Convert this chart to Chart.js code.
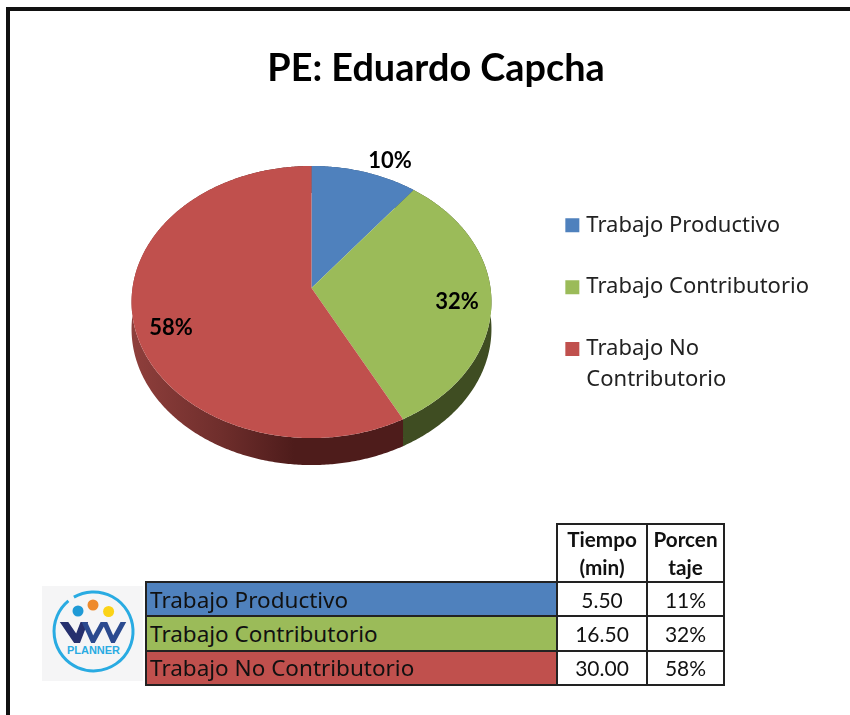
<!DOCTYPE html>
<html><head><meta charset="utf-8">
<script src="https://cdn.jsdelivr.net/npm/chart.js@4"></script>
<style>
html,body{margin:0;padding:0;background:#fff;overflow:hidden}
#page{position:relative;width:850px;height:715px;overflow:hidden;filter:blur(0.4px)}
#frameT{position:absolute;left:6px;top:7px;right:-2px;height:3.5px;background:#111}
#frameL{position:absolute;left:6px;top:7px;bottom:-2px;width:3.5px;background:#111}
canvas{position:absolute;left:0;top:0}
table{position:absolute;left:145px;top:523px;border-collapse:collapse;table-layout:fixed;color:#111}
td{border:2px solid #222;padding:0;text-align:center;font:21px Lato,sans-serif;height:32.3px;overflow:hidden}
td.name{text-align:left;padding-left:3px;font:22.5px "Noto Sans",sans-serif;white-space:nowrap}
td.head{font:bold 20.7px/28px Lato,sans-serif}
td.blank{border:none;border-bottom:2px solid #222;border-right:2px solid #222}
#logo{position:absolute;left:42px;top:586px}
</style></head><body>
<div id="page">
<canvas id="c" width="850" height="715"></canvas>
<div id="frameT"></div><div id="frameL"></div>
<svg id="logo" width="101" height="95" viewBox="0 0 101 95">
<defs><clipPath id="wclip"><rect x="15" y="36" width="72" height="21"/></clipPath></defs>
<rect width="101" height="95" fill="#f5f5f6"/>
<path d="M 31.9 11.1 A 39.5 39.5 0 1 1 26.4 14.9" fill="none" stroke="#29abe2" stroke-width="3"/>
<circle cx="36" cy="25" r="5.5" fill="#1f9ad6"/><circle cx="51" cy="19" r="5.5" fill="#ee8a2c"/><circle cx="66.6" cy="25.5" r="5.5" fill="#fbd317"/>
<g clip-path="url(#wclip)" fill="none">
<path d="M 45 29 L 35 55 L 20 33" stroke="#26306e" stroke-width="7"/>
<path d="M 41 33 L 51 55 L 62 35 L 71 55 L 83 33" stroke="#2b4a8f" stroke-width="5"/>
</g>
<text x="25" y="68" font-family="Liberation Sans" font-weight="bold" font-size="10" fill="#29abe2" textLength="53" lengthAdjust="spacingAndGlyphs">PLANNER</text>
</svg>
<table id="t"></table>
</div>
<script>
const categories = ['Trabajo Productivo', 'Trabajo Contributorio', 'Trabajo No Contributorio'];
const legendLines = [['Trabajo Productivo'], ['Trabajo Contributorio'], ['Trabajo No', 'Contributorio']];
const minutes = [5.5, 16.5, 30];
const minuteLabels = ['5.50', '16.50', '30.00'];
const tablePercent = ['11%', '32%', '58%'];
const sliceLabels = ['10%', '32%', '58%'];
const headers = [['Tiempo', '(min)'], ['Porcen', 'taje']];
const colors = ['#4f81bd', '#9bbb59', '#c0504d'];
const chartTitle = 'PE: Eduardo Capcha';

// table
const t = document.getElementById('t');
const cw = [411, 90, 77];
t.style.width = cw.reduce((a, b) => a + b) + 'px';
let html = '<colgroup>' + cw.map(w => `<col style="width:${w}px">`).join('') + '</colgroup>';
html += '<tr><td class="blank head"></td>' + headers.map(h => `<td class="head">${h.join('<br>')}</td>`).join('') + '</tr>';
categories.forEach((c, i) => {
  html += `<tr><td class="name" style="background:${colors[i]}">${c}</td><td>${minuteLabels[i]}</td><td>${tablePercent[i]}</td></tr>`;
});
t.innerHTML = html;

// perspective projection of the pie disc
const HUB = {x: 311.5, y: 288}, RX = 179, RY = 134.6, PERSP = -0.103, DEPTH = 27;
function project(angle, r, dy) {
  const u = r * Math.cos(angle), v = r * Math.sin(angle); // library angle, 0 = east, y down
  const d = 1 + PERSP * v;
  return [HUB.x + RX * u / d, HUB.y + RY * v / d + (dy || 0)];
}
function arcPoints(a0, a1, dy) {
  const n = Math.max(2, Math.ceil((a1 - a0) / 0.01)), pts = [];
  for (let i = 0; i <= n; i++) pts.push(project(a0 + (a1 - a0) * i / n, 1, dy));
  return pts;
}
function trace(ctx, pts) {
  ctx.beginPath();
  pts.forEach((p, i) => i ? ctx.lineTo(p[0], p[1]) : ctx.moveTo(p[0], p[1]));
  ctx.closePath();
}
const labelSpots = [{x: 390, y: 161}, {x: 457, y: 302}, {x: 171, y: 328}];
const tiltedPie = {
  id: 'tiltedPie',
  beforeDatasetDraw(chart, args) {
    const ctx = chart.ctx, arcs = chart.getDatasetMeta(args.index).data;
    const red = ctx.createLinearGradient(131, 0, 403, 0);
    red.addColorStop(0, '#8f3f3c'); red.addColorStop(0.33, '#6f2e2c'); red.addColorStop(0.6, '#4e1c1b'); red.addColorStop(1, '#4e1c1b');
    const wallFill = ['#2c4a6e', '#3f4d22', red];
    ctx.save();
    // side wall
    arcs.forEach((a, i) => {
      const top = arcPoints(a.startAngle, a.endAngle, 0), low = arcPoints(a.startAngle, a.endAngle, DEPTH).reverse();
      ctx.fillStyle = wallFill[i];
      trace(ctx, top.concat(low));
      ctx.fill();
    });
    // top face
    arcs.forEach((a, i) => {
      ctx.fillStyle = a.options.backgroundColor;
      trace(ctx, [[HUB.x, HUB.y]].concat(arcPoints(a.startAngle, a.endAngle, 0)));
      ctx.fill();
    });
    ctx.font = 'bold 22px Lato, sans-serif';
    ctx.fillStyle = '#000';
    ctx.textAlign = 'center';
    ctx.textBaseline = 'middle';
    sliceLabels.forEach((s, i) => ctx.fillText(s, labelSpots[i].x, labelSpots[i].y));
    ctx.restore();
    return false;
  }
};

new Chart(document.getElementById('c'), {
  type: 'pie',
  plugins: [tiltedPie],
  data: {
    labels: legendLines,
    datasets: [{data: minutes, backgroundColor: colors, borderWidth: 0}]
  },
  options: {
    responsive: false,
    animation: false,
    layout: {padding: {left: 53, right: 31, top: 0, bottom: 30}},
    plugins: {
      tooltip: {enabled: false},
      title: {display: true, text: chartTitle, color: '#000',
        font: {family: 'Lato, sans-serif', size: 37.8, weight: 'bold'},
        padding: {top: 46, bottom: 92}},
      legend: {display: true, position: 'right', align: 'start', fullSize: false,
        labels: {usePointStyle: true, pointStyle: 'rect', boxWidth: 6, boxHeight: 14, padding: 31, color: '#222',
          font: {family: '"Noto Sans", sans-serif', size: 22, lineHeight: 1.4}}}
    }
  }
});
</script>
</body></html>
